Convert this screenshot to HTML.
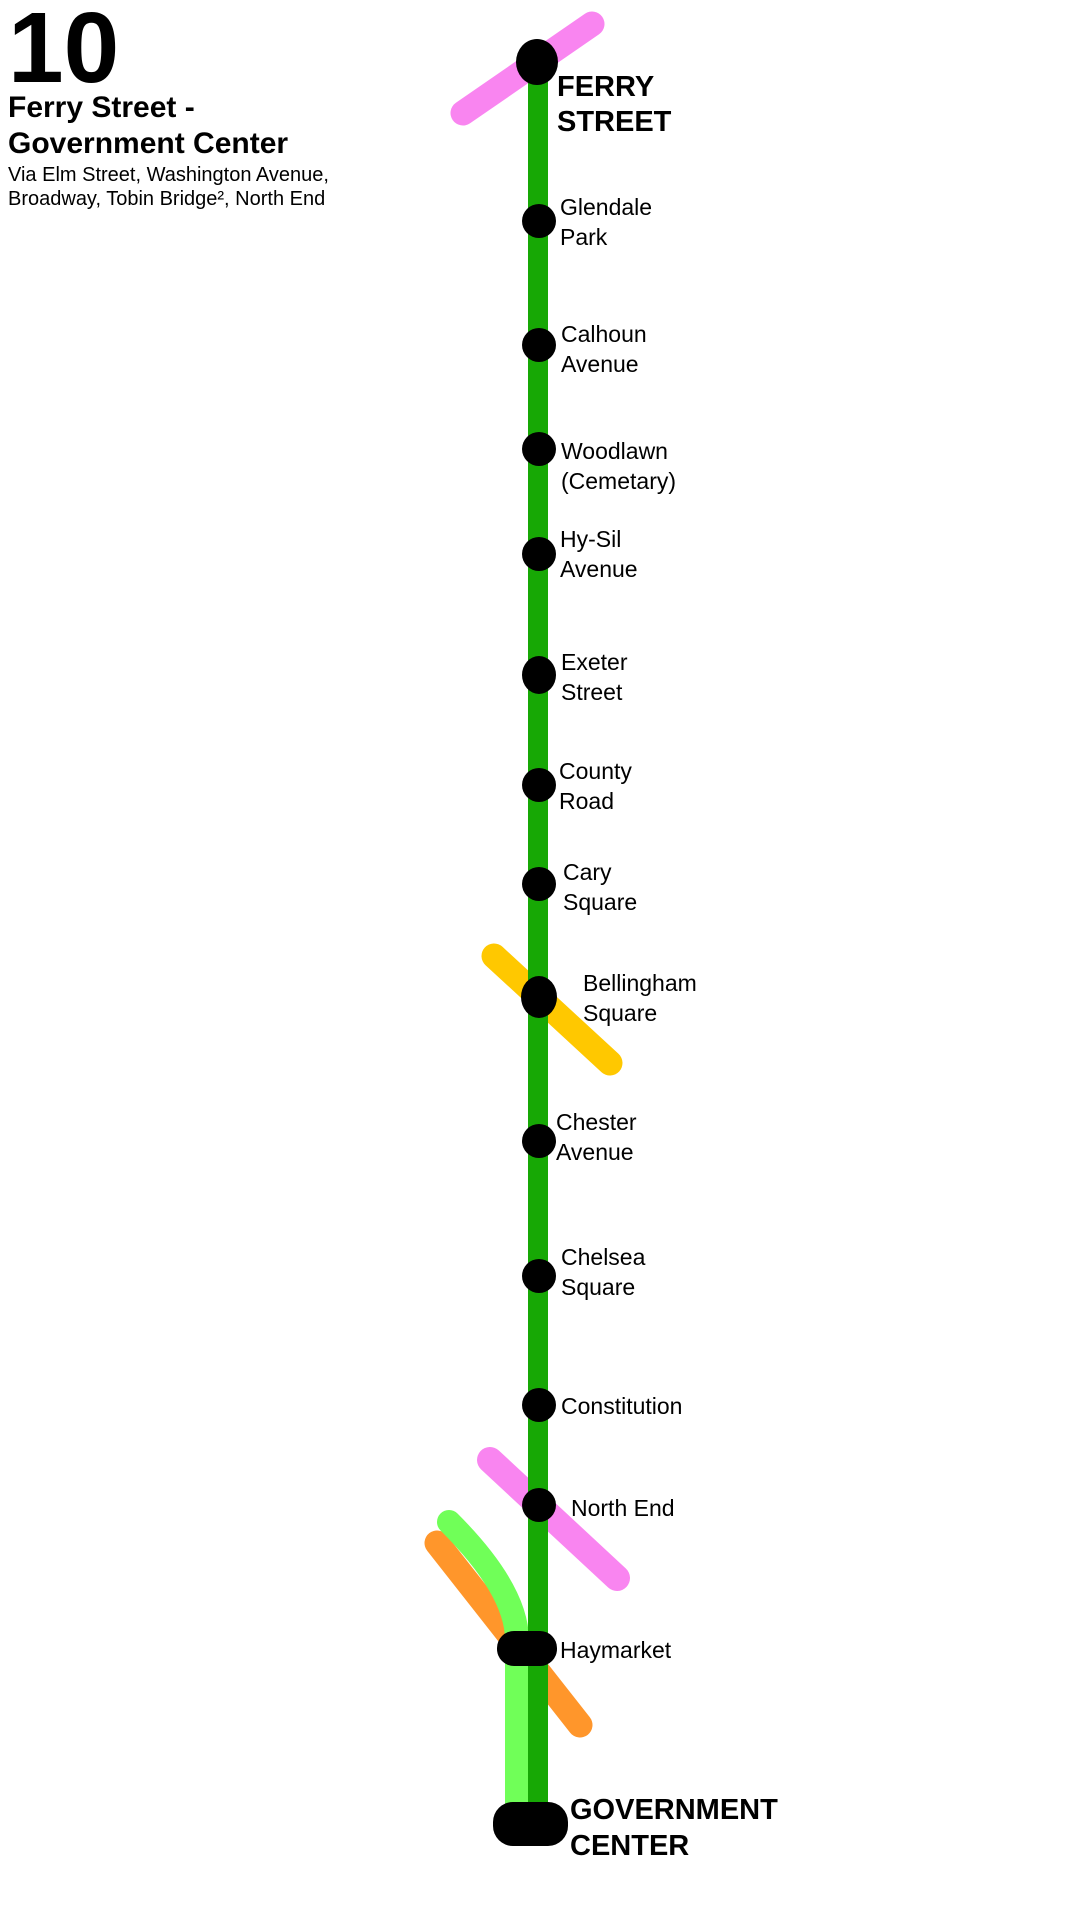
<!DOCTYPE html>
<html><head><meta charset="utf-8"><style>
html,body{margin:0;padding:0;background:#fff;}
svg{display:block;}
text{font-family:"Liberation Sans",sans-serif;fill:#000;}
</style></head><body>
<svg width="1080" height="1920" viewBox="0 0 1080 1920" xmlns="http://www.w3.org/2000/svg">
<rect width="1080" height="1920" fill="#fff"/>
<text x="8" y="82" font-size="100" font-weight="bold">10</text>
<text x="8" y="117" font-size="30" font-weight="bold">Ferry Street -</text>
<text x="8" y="153" font-size="30" font-weight="bold">Government Center</text>
<text x="8" y="181" font-size="20">Via Elm Street, Washington Avenue,</text>
<text x="8" y="205" font-size="20">Broadway, Tobin Bridge², North End</text>

<line x1="463" y1="113" x2="592" y2="24" stroke="#f985f0" stroke-width="25" stroke-linecap="round"/>
<line x1="494" y1="956" x2="610" y2="1063" stroke="#ffc800" stroke-width="25" stroke-linecap="round"/>
<line x1="490" y1="1460" x2="617" y2="1578" stroke="#f985f0" stroke-width="26" stroke-linecap="round"/>
<line x1="437" y1="1543" x2="580" y2="1725" stroke="#ff962b" stroke-width="25" stroke-linecap="round"/>
<path d="M449 1522 Q517 1590 517 1640 L517 1815" fill="none" stroke="#70ff58" stroke-width="24" stroke-linecap="round"/>
<line x1="538" y1="61" x2="538" y2="1815" stroke="#17a805" stroke-width="20"/>

<ellipse cx="537" cy="62" rx="21" ry="23"/>
<g>
<circle cx="539" cy="221" r="17"/>
<circle cx="539" cy="345" r="17"/>
<circle cx="539" cy="449" r="17"/>
<circle cx="539" cy="554" r="17"/>
<ellipse cx="539" cy="675" rx="17" ry="19"/>
<circle cx="539" cy="785" r="17"/>
<circle cx="539" cy="884" r="17"/>
<ellipse cx="539" cy="997" rx="18" ry="21"/>
<circle cx="539" cy="1141" r="17"/>
<circle cx="539" cy="1276" r="17"/>
<circle cx="539" cy="1405" r="17"/>
<circle cx="539" cy="1505" r="17"/>
</g>
<rect x="497" y="1631" width="60" height="35" rx="17"/>
<rect x="493" y="1802" width="75" height="44" rx="20"/>

<g font-size="29" font-weight="bold">
<text x="557" y="96">FERRY</text>
<text x="557" y="131">STREET</text>
<text x="570" y="1819">GOVERNMENT</text>
<text x="570" y="1855">CENTER</text>
</g>
<g font-size="23">
<text x="560" y="215">Glendale</text><text x="560" y="245">Park</text>
<text x="561" y="342">Calhoun</text><text x="561" y="372">Avenue</text>
<text x="561" y="459">Woodlawn</text><text x="561" y="489">(Cemetary)</text>
<text x="560" y="547">Hy-Sil</text><text x="560" y="577">Avenue</text>
<text x="561" y="670">Exeter</text><text x="561" y="700">Street</text>
<text x="559" y="779">County</text><text x="559" y="809">Road</text>
<text x="563" y="880">Cary</text><text x="563" y="910">Square</text>
<text x="583" y="991">Bellingham</text><text x="583" y="1021">Square</text>
<text x="556" y="1130">Chester</text><text x="556" y="1160">Avenue</text>
<text x="561" y="1265">Chelsea</text><text x="561" y="1295">Square</text>
<text x="561" y="1414">Constitution</text>
<text x="571" y="1516">North End</text>
<text x="560" y="1658">Haymarket</text>
</g>
</svg>
</body></html>
